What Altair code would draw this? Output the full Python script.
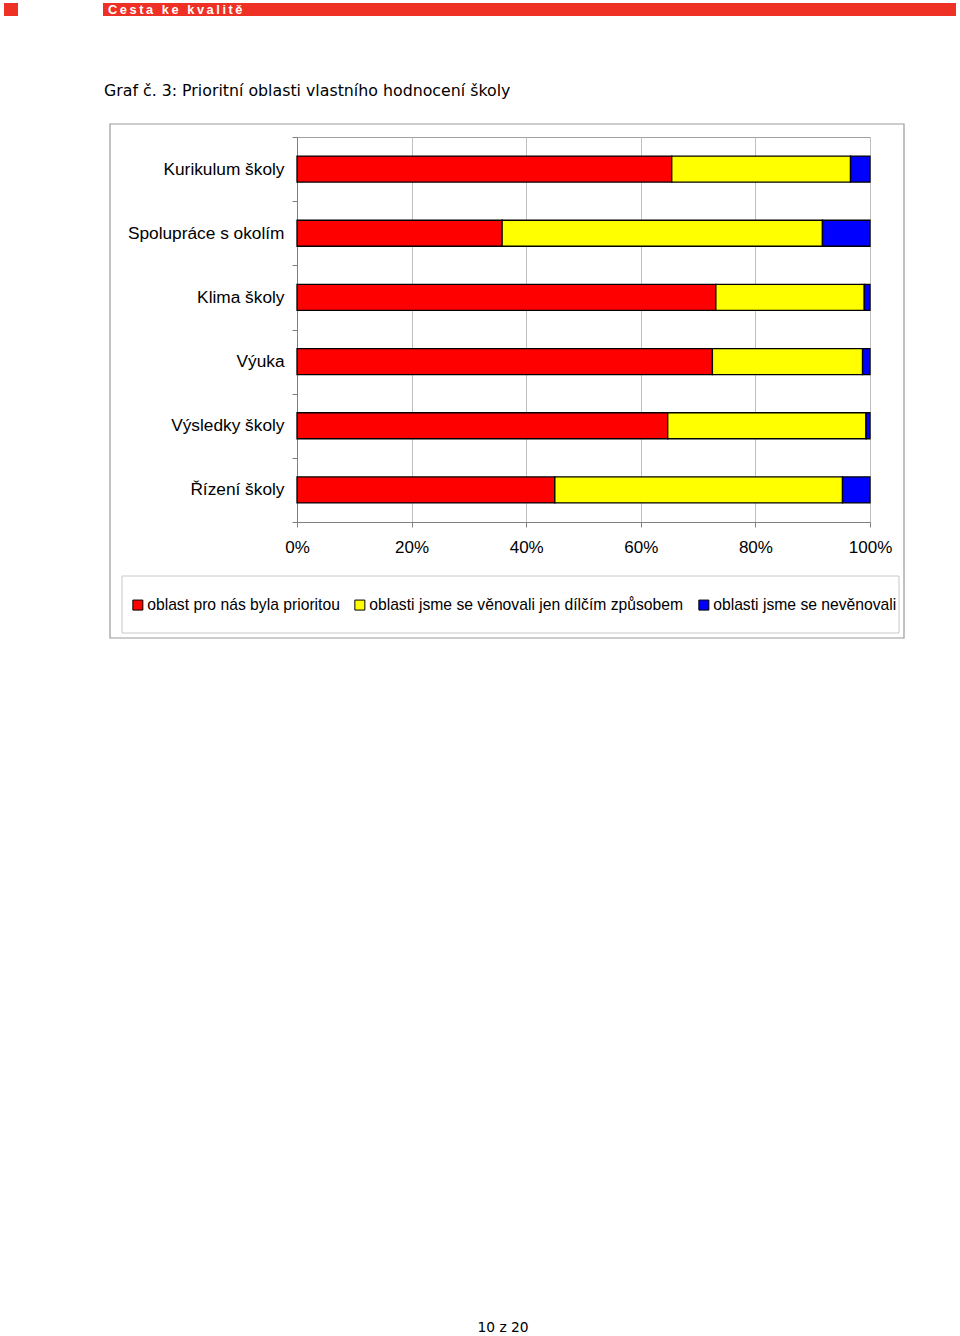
import altair as alt
import pandas as pd

# ---- data ----
categories = ["Kurikulum školy", "Spolupráce s okolím", "Klima školy",
              "Výuka", "Výsledky školy", "Řízení školy"]
series_names = ["oblast pro nás byla prioritou",
                "oblasti jsme se věnovali jen dílčím způsobem",
                "oblasti jsme se nevěnovali"]
priority = [65.4, 35.8, 73.1, 72.5, 64.7, 45.0]
partial = [31.2, 55.9, 25.9, 26.2, 34.6, 50.2]
not_done = [3.4, 8.3, 1.0, 1.3, 0.7, 4.8]
series_colors = ["#FF0000", "#FFFF00", "#0000FF"]
x_ticks = [0, 0.2, 0.4, 0.6, 0.8, 1.0]

header_text = "Cesta ke kvalitě"
title_text = "Graf č. 3: Prioritní oblasti vlastního hodnocení školy"
footer_text = "10 z 20"

rows = []
for i, cat in enumerate(categories):
    for j, (name, vals) in enumerate(zip(series_names, [priority, partial, not_done])):
        rows.append({"category": cat, "series": name, "order": j, "value": vals[i] / 100})
df = pd.DataFrame(rows)

# plot area origin in page: (297, 137)
OX, OY = 297, 137
one = alt.Data(values=[{"k": 1}])


def rect(x0, x1, y0, y1, **kw):
    return alt.Chart(one).mark_rect(**kw).encode(
        x=alt.value(x0 - OX), x2=alt.value(x1 - OX),
        y=alt.value(y0 - OY), y2=alt.value(y1 - OY))


def text(s, x, y, **kw):
    return alt.Chart(one).mark_text(**kw).encode(
        x=alt.value(x - OX), y=alt.value(y - OY), text=alt.value(s))


spaced_header = "\u2009".join(list(header_text))

header_sq = rect(4, 18, 3, 16, fill="#EE3124")
header_bar = rect(103, 956, 3, 16, fill="#EE3124")
header_lbl = text(spaced_header, 108, 9.5, font="Liberation Sans", fontSize=12.8,
                  fontWeight="bold", color="white", align="left", baseline="middle")
title = text(title_text, 104, 91, font="DejaVu Sans", fontSize=15.8, color="black",
             align="left", baseline="middle")
outer_frame = rect(110, 904, 124, 638, fillOpacity=0, stroke="#9a9a9a", strokeWidth=1.2)
legend_box = rect(122, 899, 576, 633, fillOpacity=0, stroke="#c8c8c8", strokeWidth=1)
footer = text(footer_text, 503, 1328, font="DejaVu Sans", fontSize=13.8, color="black",
              align="center", baseline="middle")

bars = alt.Chart(df).mark_bar(size=26, stroke="black", strokeWidth=1.3).encode(
    y=alt.Y("category:N", sort=categories,
            scale=alt.Scale(paddingInner=0, paddingOuter=0),
            axis=alt.Axis(title=None, labelFont="Liberation Sans", labelFontSize=17.3,
                          labelColor="black", tickBand="extent", tickSize=5,
                          tickColor="#808080", domainColor="#808080", labelPadding=8,
                          grid=False)),
    x=alt.X("value:Q", stack="zero",
            scale=alt.Scale(domain=[0, 1], nice=False),
            axis=alt.Axis(title=None, format="%", values=x_ticks, grid=True,
                          gridColor="#c0c0c0", labelFont="Liberation Sans",
                          labelFontSize=17, labelColor="black", tickSize=5,
                          tickColor="#808080", domainColor="#808080", labelPadding=12,
                          labelFlush=False)),
    color=alt.Color("series:N",
                    scale=alt.Scale(domain=series_names, range=series_colors),
                    legend=alt.Legend(title=None, orient="none", legendX=130 - OX,
                                      legendY=605 - OY - 8,
                                      direction="horizontal", symbolType="square",
                                      symbolSize=100, symbolStrokeColor="black",
                                      symbolStrokeWidth=1, labelFont="Liberation Sans",
                                      labelFontSize=15.7, labelColor="black", labelLimit=400,
                                      columnPadding=12, labelOffset=1.5, padding=0)),
    order=alt.Order("order:Q"),
)

chart = alt.layer(outer_frame, legend_box, header_sq, header_bar, header_lbl,
                  title, footer, bars).properties(
    width=573, height=385,
    padding={"left": OX, "top": OY, "right": 960 - 870, "bottom": 1336 - 522},
    autosize=alt.AutoSizeParams(type="none"),
    background="white",
).configure_view(stroke="#a0a0a0")

chart.save("out.html", embed_options={"renderer": "svg", "actions": False})
